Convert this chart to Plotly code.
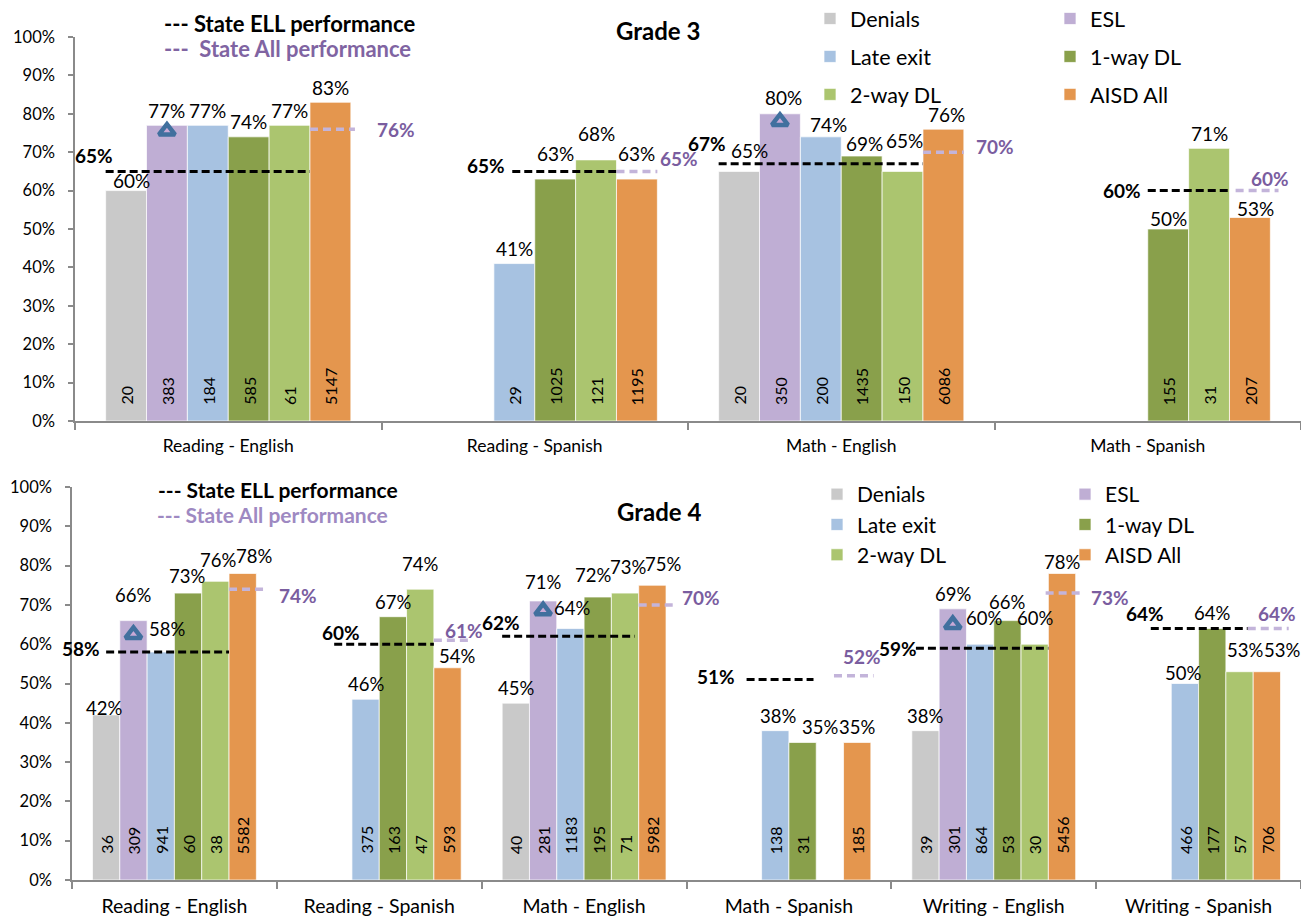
import plotly.graph_objects as go

W, H = 1301, 917
FONT = "Lato, 'Open Sans', sans-serif"

# ---------------- data ----------------
series = ["Denials", "ESL", "Late exit", "1-way DL", "2-way DL", "AISD All"]
colors = ["#C9C9C9", "#BFAED4", "#A7C2E1", "#89A04B", "#ABC56F", "#E4964E"]

# Grade 3
g3_categories = ["Reading - English", "Reading - Spanish", "Math - English", "Math - Spanish"]
g3_denials = [60, None, 65, None]
g3_esl = [77, None, 80, None]
g3_late_exit = [77, 41, 74, None]
g3_one_way = [74, 63, 69, 50]
g3_two_way = [77, 68, 65, 71]
g3_aisd_all = [83, 63, 76, 53]

g3_n_denials = [20, None, 20, None]
g3_n_esl = [383, None, 350, None]
g3_n_late_exit = [184, 29, 200, None]
g3_n_one_way = [585, 1025, 1435, 155]
g3_n_two_way = [61, 121, 150, 31]
g3_n_aisd_all = [5147, 1195, 6086, 207]

g3_state_ell = [65, 65, 67, 60]
g3_state_all = [76, 65, 70, 60]
g3_esl_marker = [75.5, None, 78, None]

# Grade 4
g4_categories = ["Reading - English", "Reading - Spanish", "Math - English",
                 "Math - Spanish", "Writing - English", "Writing - Spanish"]
g4_denials = [42, None, 45, None, 38, None]
g4_esl = [66, None, 71, None, 69, None]
g4_late_exit = [58, 46, 64, 38, 60, 50]
g4_one_way = [73, 67, 72, 35, 66, 64]
g4_two_way = [76, 74, 73, None, 60, 53]
g4_aisd_all = [78, 54, 75, 35, 78, 53]

g4_n_denials = [36, None, 40, None, 39, None]
g4_n_esl = [309, None, 281, None, 301, None]
g4_n_late_exit = [941, 375, 1183, 138, 864, 466]
g4_n_one_way = [60, 163, 195, 31, 53, 177]
g4_n_two_way = [38, 47, 71, None, 30, 57]
g4_n_aisd_all = [5582, 593, 5982, 185, 5456, 706]

g4_state_ell = [58, 60, 62, 51, 59, 64]
g4_state_all = [74, 61, 70, 52, 73, 64]
g4_esl_marker = [62.5, None, 68.5, None, 65, None]

y_ticks = [0, 10, 20, 30, 40, 50, 60, 70, 80, 90, 100]

# ---------------- layout helpers (positions / styling) ----------------
BARGAP = 0.2
SLOT = (1 - BARGAP) / len(series)
LABEL_LIFT = 15  # px from bar top to centre of value label


def slot_edge(i, s):
    return i - 0.5 + BARGAP / 2 + s * SLOT


def px_x(x):
    return x / W


def px_y(y):
    return 1 - y / H


# reference-line extents in bar-slot units and label nudges (pixels)
g3_layout = dict(
    ell_from=[0, 2.45, 0, 3], ell_to=[5, 5, 5, 5],
    all_from=[5, 5, 5, 5.15], all_to=[6.1, 6, 6, 6.2],
    ell_dx=[9, -5, 9, -5], ell_dy=[16, 6, 20, 0],
    all_dx=[20, 1, 10, -30], all_dy=[0, 13, 6, 12],
    # (category, series) -> (dx, dy) nudges of the value labels
    pct=[((0, 0), (5, -5)), ((1, 3), (0, 11)), ((1, 4), (0, 11)), ((1, 5), (0, 11)),
         ((2, 0), (10, 6)), ((2, 1), (4, 1)), ((2, 2), (8, -3)), ((2, 3), (3, -2)),
         ((2, 4), (2, 16)), ((2, 5), (3, 0)), ((3, 3), (0, -4)), ((3, 5), (6, -6))],
)
g4_layout = dict(
    ell_from=[0.5, 1.35, 0, 1.45, 0.15, 1.25], ell_to=[5, 5, 4.85, 3.9, 5, 4.8],
    all_from=[5, 5, 5, 4.65, 4.9, 4.8], all_to=[6.35, 6.4, 6.4, 6.1, 6.2, 6.3],
    ell_dx=[-4, 28, 20, -10, 3, 15], ell_dy=[4, 12, 14, 3, 0, 15],
    all_dx=[11, -29, 3, -33, 8, -33], all_dy=[-6, 10, 7, 19, -4, 15],
    pct=[((0, 0), (-2, -8)), ((0, 1), (0, 11)), ((0, 2), (6, 8)), ((0, 3), (-1, 2)),
         ((0, 4), (3, 6)), ((0, 5), (11, 2)), ((1, 4), (0, 10)), ((1, 5), (9, -3)),
         ((2, 1), (0, 4)), ((2, 2), (2, 5)), ((2, 3), (-5, 7)), ((2, 4), (3, 11)),
         ((2, 5), (11, 6)), ((3, 2), (3, 0)), ((3, 3), (17, 0)), ((4, 2), (4, 11)),
         ((4, 3), (0, 4)), ((4, 4), (0, 11)), ((4, 5), (0, -4)), ((5, 2), (-2, -4)),
         ((5, 4), (5, 7)), ((5, 5), (15, 7))],
)

panels = [
    dict(cats=g3_categories,
         vals=[g3_denials, g3_esl, g3_late_exit, g3_one_way, g3_two_way, g3_aisd_all],
         ns=[g3_n_denials, g3_n_esl, g3_n_late_exit, g3_n_one_way, g3_n_two_way, g3_n_aisd_all],
         ell=g3_state_ell, alls=g3_state_all, tri=g3_esl_marker, lay=g3_layout,
         xa="x", ya="y", xo="x3", legends=["legend", "legend2"], tag="g3",
         count_shift=14, pct_size=19),
    dict(cats=g4_categories,
         vals=[g4_denials, g4_esl, g4_late_exit, g4_one_way, g4_two_way, g4_aisd_all],
         ns=[g4_n_denials, g4_n_esl, g4_n_late_exit, g4_n_one_way, g4_n_two_way, g4_n_aisd_all],
         ell=g4_state_ell, alls=g4_state_all, tri=g4_esl_marker, lay=g4_layout,
         xa="x2", ya="y2", xo="x4", legends=["legend3", "legend4"], tag="g4",
         count_shift=24, pct_size=18.5),
]

ELL_COLOR = "#000000"
ALL_LINE = "#C3B4DA"
ALL_TEXT = "#7A5D9F"

fig = go.Figure()
shapes = []
annotations = []

for p in panels:
    n = len(p["cats"])
    lay = p["lay"]
    nudges = dict(lay["pct"])
    for k, name in enumerate(series):
        vals = p["vals"][k]
        fig.add_trace(go.Bar(
            name=name, x=p["cats"], y=vals,
            marker=dict(color=colors[k], line=dict(color="rgba(255,255,255,0.7)", width=1)),
            xaxis=p["xa"], yaxis=p["ya"],
            legend=p["legends"][k % 2], legendgroup=f'{p["tag"]}_{k}',
            hoverinfo="name+y",
        ))
        for i, v in enumerate(vals):
            if v is None:
                continue
            dx, dy = nudges.get((i, k), (0, 0))
            # value label above the bar
            annotations.append(dict(
                x=slot_edge(i, k + 0.5), y=v, xref=p["xa"], yref=p["ya"],
                text=f"{v}%", showarrow=False, xanchor="center", yanchor="middle",
                xshift=dx, yshift=LABEL_LIFT + dy,
                font=dict(size=p["pct_size"], color="#000000", family=FONT),
            ))
            # sample count at the base of the bar
            c = p["ns"][k][i]
            if c is not None:
                annotations.append(dict(
                    x=slot_edge(i, k + 0.5), y=0, xref=p["xa"], yref=p["ya"],
                    text=str(c), showarrow=False, textangle=-90,
                    xanchor="center", yanchor="bottom", yshift=p["count_shift"],
                    font=dict(size=16, color="#000000", family=FONT),
                ))
    # ESL triangle markers
    tx = [slot_edge(i, 1.5) for i, t in enumerate(p["tri"]) if t is not None]
    ty = [t for t in p["tri"] if t is not None]
    fig.add_trace(go.Scatter(
        x=tx, y=ty, mode="markers", xaxis=p["xo"], yaxis=p["ya"], showlegend=False,
        marker=dict(symbol="triangle-up", size=14, color="#C9A9D6",
                    line=dict(color="#41709E", width=4.5)),
        hoverinfo="skip",
    ))
    for i in range(n):
        # state ELL line
        x0, x1 = slot_edge(i, lay["ell_from"][i]), slot_edge(i, lay["ell_to"][i])
        shapes.append(dict(type="line", xref=p["xa"], yref=p["ya"], x0=x0, x1=x1,
                           y0=p["ell"][i], y1=p["ell"][i],
                           line=dict(color=ELL_COLOR, width=3, dash="8px,4px")))
        annotations.append(dict(
            x=x0, y=p["ell"][i], xref=p["xa"], yref=p["ya"], text=f'<b>{p["ell"][i]}%</b>',
            showarrow=False, xanchor="right", yanchor="middle",
            xshift=lay["ell_dx"][i], yshift=lay["ell_dy"][i],
            font=dict(size=19, color=ELL_COLOR, family=FONT)))
        # state All line
        a0, a1 = slot_edge(i, lay["all_from"][i]), slot_edge(i, lay["all_to"][i])
        shapes.append(dict(type="line", xref=p["xa"], yref=p["ya"], x0=a0, x1=a1,
                           y0=p["alls"][i], y1=p["alls"][i],
                           line=dict(color=ALL_LINE, width=3.5, dash="8px,5px")))
        annotations.append(dict(
            x=a1, y=p["alls"][i], xref=p["xa"], yref=p["ya"], text=f'<b>{p["alls"][i]}%</b>',
            showarrow=False, xanchor="left", yanchor="middle",
            xshift=lay["all_dx"][i], yshift=lay["all_dy"][i],
            font=dict(size=19, color=ALL_TEXT, family=FONT)))

# titles and key texts
annotations += [
    dict(x=px_x(658), y=px_y(30), xref="paper", yref="paper", text="<b>Grade 3</b>",
         showarrow=False, xanchor="center", yanchor="middle",
         font=dict(size=24, color="#000000", family=FONT)),
    dict(x=px_x(659), y=px_y(511), xref="paper", yref="paper", text="<b>Grade 4</b>",
         showarrow=False, xanchor="center", yanchor="middle",
         font=dict(size=24, color="#000000", family=FONT)),
    dict(x=px_x(162), y=px_y(24), xref="paper", yref="paper", text="<b>--- State ELL performance</b>",
         showarrow=False, xanchor="left", yanchor="middle",
         font=dict(size=22, color="#000000", family=FONT)),
    dict(x=px_x(162), y=px_y(49), xref="paper", yref="paper", text="<b>---  State All performance</b>",
         showarrow=False, xanchor="left", yanchor="middle",
         font=dict(size=22, color="#8064A2", family=FONT)),
    dict(x=px_x(156), y=px_y(489), xref="paper", yref="paper", text="<b>--- State ELL performance</b>",
         showarrow=False, xanchor="left", yanchor="middle",
         font=dict(size=21, color="#000000", family=FONT)),
    dict(x=px_x(155), y=px_y(514), xref="paper", yref="paper", text="<b>--- State All performance</b>",
         showarrow=False, xanchor="left", yanchor="middle",
         font=dict(size=21, color="#9E89C2", family=FONT)),
]

AXIS_COLOR = "#8A8A8A"


def xaxis_cfg(cats, domain, anchor, size):
    return dict(domain=domain, anchor=anchor, type="category", categoryorder="array",
                categoryarray=cats, range=[-0.5, len(cats) - 0.5],
                showline=True, linecolor=AXIS_COLOR, linewidth=1.5,
                ticks="outside", ticklen=7, tickcolor=AXIS_COLOR, tickwidth=1.5,
                tickson="boundaries", showgrid=False, zeroline=False,
                ticklabelstandoff=8, automargin=False,
                tickfont=dict(size=size, color="#000000", family=FONT), fixedrange=True)


def yaxis_cfg(domain, anchor):
    return dict(domain=domain, anchor=anchor, range=[0, 100], tickvals=y_ticks,
                ticktext=[f"{t}%" for t in y_ticks],
                showline=True, linecolor=AXIS_COLOR, linewidth=1.5,
                ticks="outside", ticklen=5, tickcolor=AXIS_COLOR, tickwidth=1.5,
                showgrid=False, zeroline=False, ticklabelstandoff=10, automargin=False,
                tickfont=dict(size=16.5, color="#000000", family=FONT), fixedrange=True)


def legend_cfg(x, y, gap, size):
    return dict(x=px_x(x), y=px_y(y), xanchor="left", yanchor="top", orientation="v",
                bgcolor="rgba(0,0,0,0)", borderwidth=0, tracegroupgap=gap,
                font=dict(size=size, color="#000000", family=FONT),
                itemclick=False, itemdoubleclick=False)


top_dom = [px_y(421), px_y(37)]
bot_dom = [px_y(880), px_y(487)]

fig.update_layout(
    width=W, height=H, margin=dict(l=0, r=0, t=0, b=0, autoexpand=False),
    paper_bgcolor="white", plot_bgcolor="white",
    barmode="group", bargap=BARGAP, bargroupgap=0,
    font=dict(family=FONT, color="#000000"),
    xaxis=xaxis_cfg(g3_categories, [px_x(75), 1], "y", 17.5),
    yaxis=yaxis_cfg(top_dom, "x"),
    xaxis2=xaxis_cfg(g4_categories, [px_x(72), 1], "y2", 19.5),
    yaxis2=yaxis_cfg(bot_dom, "x2"),
    xaxis3=dict(overlaying="x", anchor="y", range=[-0.5, len(g3_categories) - 0.5],
                visible=False, fixedrange=True),
    xaxis4=dict(overlaying="x2", anchor="y2", range=[-0.5, len(g4_categories) - 0.5],
                visible=False, fixedrange=True),
    legend=legend_cfg(810, -2, 7, 21.5),
    legend2=legend_cfg(1050, -2, 7, 21.5),
    legend3=legend_cfg(817, 474, 0, 21),
    legend4=legend_cfg(1065, 474, 0, 21),
    shapes=shapes, annotations=annotations,
    showlegend=True,
)

fig.write_html("out.html")
